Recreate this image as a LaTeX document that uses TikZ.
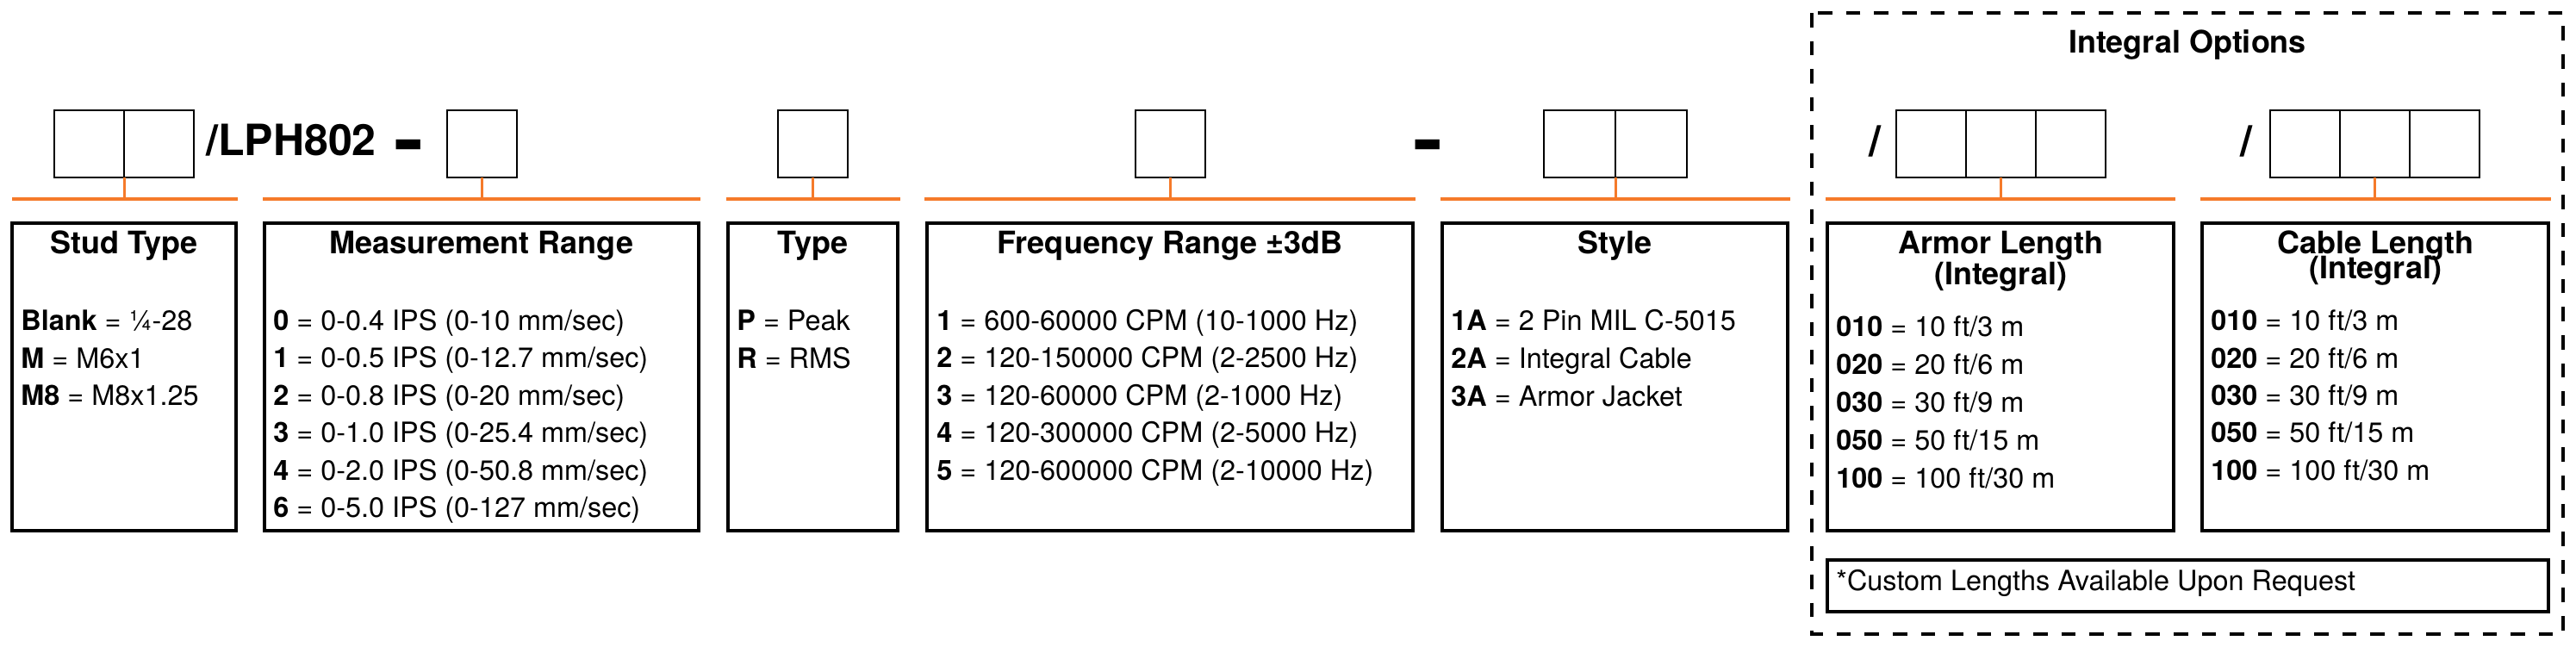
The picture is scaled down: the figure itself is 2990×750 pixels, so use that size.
\documentclass[tikz,border=0pt]{standalone}
\usepackage{fontspec}
\setmainfont{TeX Gyre Heros}
\usepackage{graphicx}
\usepackage{tikz}
\usetikzlibrary{positioning}
\definecolor{orangeline}{RGB}{245,122,42}
\newcommand{\heavydash}{\raisebox{-0.33em}{\scalebox{1}[2.2]{–}}}

\begin{document}
\begin{tikzpicture}[x=0.5pt,y=-0.5pt,
		cell/.style={draw,line width=1pt,minimum width=40.5pt,minimum height=39pt,inner sep=0pt,outer sep=0pt},
		feed/.style={draw=orangeline,line width=2pt},
		tap/.style={draw=orangeline,line width=1.5pt},
		frame/.style={draw,line width=2pt},
		code/.style={font=\bfseries\fontsize{25}{30}\selectfont,inner sep=0pt,anchor=base},
		heading/.style={font=\bfseries\fontsize{18}{22}\selectfont,inner sep=0pt,anchor=base},
		entry/.style={font=\fontsize{16.2}{20}\selectfont,inner sep=0pt,anchor=base west}]
		\useasboundingbox (0,0) rectangle (2990,750);
%		\draw[help lines,step=100] (0,0) grid (2990,750);
		\path (14,231) coordinate (stud_bar_l);
		\path (276,231) coordinate (stud_bar_r);
		\path (305,231) coordinate (range_bar_l);
		\path (813,231) coordinate (range_bar_r);
		\path (843,231) coordinate (type_bar_l);
		\path (1045,231) coordinate (type_bar_r);
		\path (1073,231) coordinate (freq_bar_l);
		\path (1643,231) coordinate (freq_bar_r);
		\path (1672,231) coordinate (style_bar_l);
		\path (2078,231) coordinate (style_bar_r);
		\path (2119,231) coordinate (armor_bar_l);
		\path (2525,231) coordinate (armor_bar_r);
		\path (2554,231) coordinate (cable_bar_l);
		\path (2961,231) coordinate (cable_bar_r);

		% part number cells
		\path (239,180) node(part_code) [code,anchor=base west] {/LPH802 \kern0.2em\heavydash};
		\path (103.5,167) node(stud_a) [cell] {};
		\node (stud_b) [cell,right=0pt of stud_a] {};
		\path (559,167) node(range_cell) [cell] {};
		\path (943.5,167) node(type_cell) [cell] {};
		\path (1358,167) node(freq_cell) [cell] {};
		\path (1657.5,180) node(style_dash) [code] {\heavydash};
		\path (1833.5,167) node(style_a) [cell,minimum width=41.5pt] {};
		\node (style_b) [cell,minimum width=41.5pt,right=0pt of style_a] {};
		\path (2176,181) node(armor_slash) [code] {/};
		\path (2241,167) node(armor_a) [cell] {};
		\node (armor_b) [cell,right=0pt of armor_a] {};
		\node (armor_c) [cell,right=0pt of armor_b] {};
		\path (2607,181) node(cable_slash) [code] {/};
		\path (2675.5,167) node(cable_a) [cell] {};
		\node (cable_b) [cell,right=0pt of cable_a] {};
		\node (cable_c) [cell,right=0pt of cable_b] {};

		\draw[feed] (stud_bar_l) -- (stud_bar_r);
		\draw[feed] (range_bar_l) -- (range_bar_r);
		\draw[feed] (type_bar_l) -- (type_bar_r);
		\draw[feed] (freq_bar_l) -- (freq_bar_r);
		\draw[feed] (style_bar_l) -- (style_bar_r);
		\draw[feed] (armor_bar_l) -- (armor_bar_r);
		\draw[feed] (cable_bar_l) -- (cable_bar_r);
		\draw[tap] (stud_a.south east) -- (stud_a.south east |- stud_bar_l);
		\draw[tap] (range_cell.south) -- (range_cell.south |- range_bar_l);
		\draw[tap] (type_cell.south) -- (type_cell.south |- type_bar_l);
		\draw[tap] (freq_cell.south) -- (freq_cell.south |- freq_bar_l);
		\draw[tap] (style_a.south east) -- (style_a.south east |- style_bar_l);
		\draw[tap] (armor_b.south) -- (armor_b.south |- armor_bar_l);
		\draw[tap] (cable_b.south) -- (cable_b.south |- cable_bar_l);

		% option boxes
		\draw[frame] (14,259) rectangle (274,616);
		\draw[frame] (307,259) rectangle (811,616);
		\draw[frame] (845,259) rectangle (1042,616);
		\draw[frame] (1076,259) rectangle (1640,616);
		\draw[frame] (1674,259) rectangle (2075,616);
		\draw[frame] (2121,259) rectangle (2523,616);
		\draw[frame] (2556,259) rectangle (2958,616);
		\draw[frame] (2121,650) rectangle (2958,710);
		\draw[line width=2pt,dash pattern=on 8.3pt off 8pt] (2103,15) rectangle (2975,736);

		\path (2539,61) node(integral_title) [heading] {Integral Options};
		\path (144,294) node(stud_title) [heading] {Stud Type};
		\path (559,294) node(range_title) [heading] {Measurement Range};
		\path (943.5,294) node(type_title) [heading] {Type};
		\path (1358,294) node(freq_title) [heading] {Frequency Range ±3dB};
		\path (1874.5,294) node(style_title) [heading] {Style};
		\path (2322,294) node(armor_title) [heading] {Armor Length};
		\path (2322,330) node(armor_title2) [heading] {(Integral)};
		\path (2757,294) node(cable_title) [heading] {Cable Length};
		\path (2757,323) node(cable_title2) [heading] {(Integral)};

		\path (24,383) node(stud_0) [entry] {\textbf{Blank} = ¼-28};
		\path (24,427) node(stud_1) [entry] {\textbf{M} = M6x1};
		\path (24,470) node(stud_2) [entry] {\textbf{M8} = M8x1.25};

		\path (317,383) node(range_0) [entry] {\textbf{0} = 0-0.4 IPS (0-10 mm/sec)};
		\path (317,426.5) node(range_1) [entry] {\textbf{1} = 0-0.5 IPS (0-12.7 mm/sec)};
		\path (317,470) node(range_2) [entry] {\textbf{2} = 0-0.8 IPS (0-20 mm/sec)};
		\path (317,513.5) node(range_3) [entry] {\textbf{3} = 0-1.0 IPS (0-25.4 mm/sec)};
		\path (317,557) node(range_4) [entry] {\textbf{4} = 0-2.0 IPS (0-50.8 mm/sec)};
		\path (317,600.5) node(range_6) [entry] {\textbf{6} = 0-5.0 IPS (0-127 mm/sec)};

		\path (855,383) node(type_p) [entry] {\textbf{P} = Peak};
		\path (855,427) node(type_r) [entry] {\textbf{R} = RMS};

		\path (1087,383) node(freq_1) [entry] {\textbf{1} = 600-60000 CPM (10-1000 Hz)};
		\path (1087,426.5) node(freq_2) [entry] {\textbf{2} = 120-150000 CPM (2-2500 Hz)};
		\path (1087,470) node(freq_3) [entry] {\textbf{3} = 120-60000 CPM (2-1000 Hz)};
		\path (1087,513.5) node(freq_4) [entry] {\textbf{4} = 120-300000 CPM (2-5000 Hz)};
		\path (1087,557) node(freq_5) [entry] {\textbf{5} = 120-600000 CPM (2-10000 Hz)};

		\path (1684,383) node(style_1a) [entry] {\textbf{1A} = 2 Pin MIL C-5015};
		\path (1684,427) node(style_2a) [entry] {\textbf{2A} = Integral Cable};
		\path (1684,471) node(style_3a) [entry] {\textbf{3A} = Armor Jacket};

		\path (2131,390) node(armor_010) [entry] {\textbf{010} = 10 ft/3 m};
		\path (2131,434) node(armor_020) [entry] {\textbf{020} = 20 ft/6 m};
		\path (2131,478) node(armor_030) [entry] {\textbf{030} = 30 ft/9 m};
		\path (2131,522) node(armor_050) [entry] {\textbf{050} = 50 ft/15 m};
		\path (2131,566) node(armor_100) [entry] {\textbf{100} = 100 ft/30 m};

		\path (2566,383) node(cable_010) [entry] {\textbf{010} = 10 ft/3 m};
		\path (2566,427) node(cable_020) [entry] {\textbf{020} = 20 ft/6 m};
		\path (2566,470) node(cable_030) [entry] {\textbf{030} = 30 ft/9 m};
		\path (2566,513) node(cable_050) [entry] {\textbf{050} = 50 ft/15 m};
		\path (2566,557) node(cable_100) [entry] {\textbf{100} = 100 ft/30 m};

		\path (2131,685) node(custom_note) [entry] {*Custom Lengths Available Upon Request};
\end{tikzpicture}
\end{document}
